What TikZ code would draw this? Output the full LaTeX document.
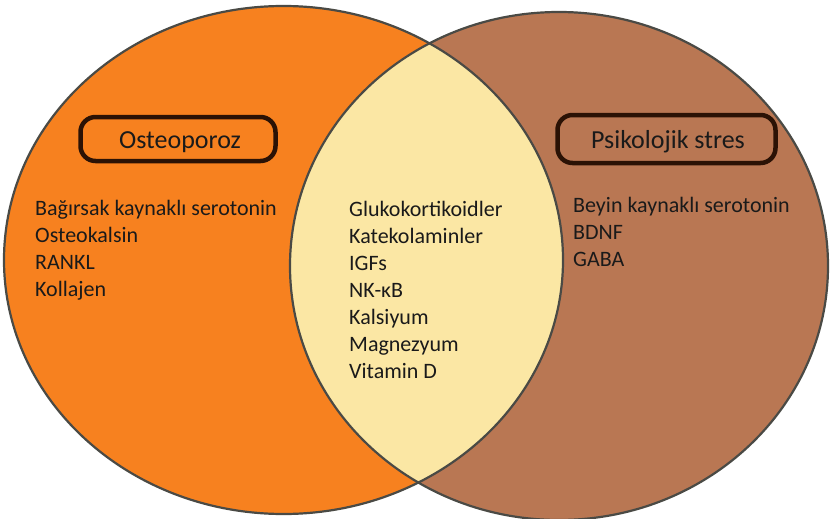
\documentclass[tikz,border=0pt]{standalone}
\usepackage{fontspec}
\setmainfont{Carlito}
\definecolor{orangeC}{HTML}{F7811F}
\definecolor{brownC}{HTML}{B97753}
\definecolor{lensC}{HTML}{FBE7A4}
\definecolor{edgeC}{HTML}{4A4A45}
\definecolor{boxC}{HTML}{2B1205}
\definecolor{txtC}{HTML}{1A1A1A}
\tikzset{
  item/.style={anchor=base west, inner sep=0pt, text=txtC, font=\fontsize{22}{27}\selectfont},
  titlebox/.style={draw=boxC, line width=4.5pt, rounded corners=15pt, inner sep=0pt},
  titletext/.style={anchor=base, inner sep=0pt, text=txtC, font=\fontsize{26}{30}\selectfont},
  ring/.style={draw=edgeC, line width=2.2pt}
}
\begin{document}
\begin{tikzpicture}[x=1pt,y=-1pt]
\useasboundingbox (0,0) rectangle (830,519);
\fill[white] (0,0) rectangle (830,519);
% circles
\fill[orangeC] (283.5,260) ellipse [x radius=279.5pt, y radius=254pt];
\fill[brownC] (559,266) ellipse [x radius=269pt, y radius=254pt];
\begin{scope}
  \clip (283.5,260) ellipse [x radius=279.5pt, y radius=254pt];
  \fill[lensC] (559,266) ellipse [x radius=269pt, y radius=254pt];
\end{scope}
\draw[ring] (283.5,260) ellipse [x radius=279.5pt, y radius=254pt];
\draw[ring] (559,266) ellipse [x radius=269pt, y radius=254pt];
% title boxes
\node[titlebox, minimum width=195pt, minimum height=44pt] (bo) at (178,139) {};
\node[titlebox, minimum width=218pt, minimum height=48pt] (bp) at (666.5,139) {};
\node[titletext] (to) at (180,148) {Osteoporoz};
\node[titletext] (tp) at (668,148) {Psikolojik stres};
% left list
\node[item] (l1) at (35,215) {Bağırsak kaynaklı serotonin};
\node[item] (l2) at (35,242) {Osteokalsin};
\node[item] (l3) at (35,269) {RANKL};
\node[item] (l4) at (35,296) {Kollajen};
% center list
\node[item] (c1) at (349,216) {Glukokortikoidler};
\node[item] (c2) at (349,243) {Katekolaminler};
\node[item] (c3) at (349,270) {IGFs};
\node[item] (c4) at (349,297) {NK-κB};
\node[item] (c5) at (349,324) {Kalsiyum};
\node[item] (c6) at (349,351) {Magnezyum};
\node[item] (c7) at (349,378) {Vitamin D};
% right list
\node[item] (r1) at (573,212) {Beyin kaynaklı serotonin};
\node[item] (r2) at (573,239) {BDNF};
\node[item] (r3) at (573,266) {GABA};
\end{tikzpicture}
\end{document}
